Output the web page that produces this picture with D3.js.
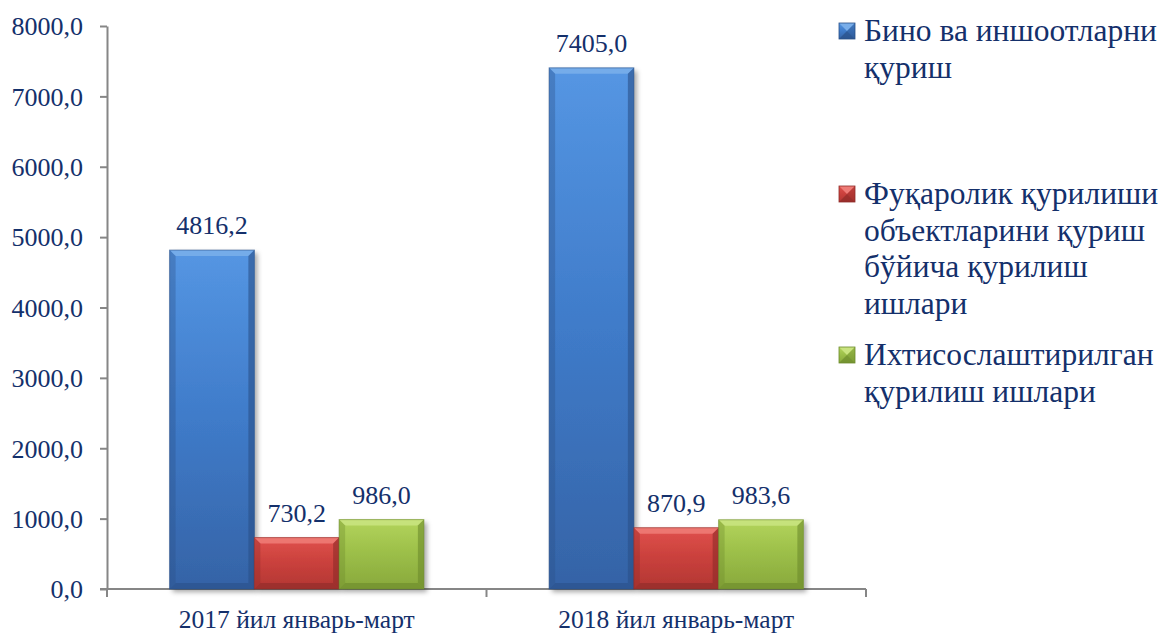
<!doctype html>
<html>
  <head>
    <meta charset="utf-8">
    <script src="https://d3js.org/d3.v7.min.js"></script>
    <style>
      body { margin: 0; background: #fff; }
    </style>
  </head>
  <body>
    <svg id="chart" width="1165" height="635"></svg>
    <script>
      // data
      var categories = ["2017 йил январь-март", "2018 йил январь-март"];
      var seriesNames = [
        ["Бино ва иншоотларни", "қуриш"],
        ["Фуқаролик қурилиши", "объектларини қуриш", "бўйича қурилиш", "ишлари"],
        ["Ихтисослаштирилган", "қурилиш ишлари"]
      ];
      var building = [4816.2, 7405.0];
      var civil = [730.2, 870.9];
      var special = [986.0, 983.6];
      var yTicks = [0, 1000, 2000, 3000, 4000, 5000, 6000, 7000, 8000];

      (function() {
      var FONT = "'Liberation Serif', 'Times New Roman', serif";
      var INK = "#14306B";
      var series = [building, civil, special];
      var keys = ["s0", "s1", "s2"];
      var colors = [
        {top: "#5596E3", mid: "#3F7BC9", bot: "#3563A6", light: "#79AEEA", dark: "#2A5088"},
        {top: "#E0514C", mid: "#C9403C", bot: "#B23733", light: "#EE7B76", dark: "#8E2B28"},
        {top: "#B3D45C", mid: "#9BBE48", bot: "#88A83C", light: "#C9E37F", dark: "#6C8A2C"}
      ];

      var svg = d3.select("#chart");
      var mLeft = 107, mRight = 866, mTop = 26, mBottom = 589;

      var x0 = d3.scaleBand().domain(categories).range([mLeft, mRight])
        .paddingInner(0.33).paddingOuter(0.165);
      var x1 = d3.scaleBand().domain(keys).range([0, x0.bandwidth()]);
      var y = d3.scaleLinear().domain([0, 8000]).range([mBottom, mTop]);

      var fmt = function(v) { return d3.format(".1f")(v).replace(".", ","); };
      function txt(sel, size) {
        return sel.style("font-family", FONT).style("font-size", size + "px").style("fill", INK);
      }

      // defs: gradients and shadow
      var defs = svg.append("defs");
      colors.forEach(function(c, i) {
        var g = defs.append("linearGradient").attr("id", "grad" + i)
          .attr("x1", 0).attr("y1", 0).attr("x2", 0).attr("y2", 1);
        g.append("stop").attr("offset", "0%").attr("stop-color", c.top);
        g.append("stop").attr("offset", "50%").attr("stop-color", c.mid);
        g.append("stop").attr("offset", "100%").attr("stop-color", c.bot);
      });
      var f = defs.append("filter").attr("id", "shadow")
        .attr("x", "-20%").attr("y", "-20%").attr("width", "150%").attr("height", "150%");
      f.append("feDropShadow").attr("dx", 3).attr("dy", 3).attr("stdDeviation", 2.5)
        .attr("flood-color", "#000").attr("flood-opacity", 0.35);

      // axes
      var yAxis = d3.axisLeft(y).tickValues(yTicks).tickSize(7).tickSizeOuter(0).tickFormat(fmt);
      var ya = svg.append("g").attr("transform", "translate(" + mLeft + ",0)").call(yAxis);
      ya.select(".domain").attr("stroke", "#868686").attr("stroke-width", 2);
      ya.selectAll(".tick line").attr("stroke", "#868686").attr("stroke-width", 2);
      txt(ya.selectAll(".tick text").attr("x", -24).attr("dy", "0.34em"), 26);

      // x axis baseline with category separators
      var xa = svg.append("g");
      xa.append("line").attr("x1", mLeft - 7).attr("x2", mRight).attr("y1", mBottom).attr("y2", mBottom)
        .attr("stroke", "#868686").attr("stroke-width", 2);
      xa.append("line").attr("x1", mLeft).attr("x2", mLeft).attr("y1", mBottom).attr("y2", mBottom + 8)
        .attr("stroke", "#868686").attr("stroke-width", 2);
      var seps = categories.map(function(c) { return x0(c) + x0.bandwidth() + x0.step() * 0.165; });
      xa.selectAll(".sep").data(seps).enter().append("line")
        .attr("x1", function(d) { return d; }).attr("x2", function(d) { return d; })
        .attr("y1", mBottom).attr("y2", mBottom + 8)
        .attr("stroke", "#868686").attr("stroke-width", 2);
      txt(xa.selectAll(".cat").data(categories).enter().append("text")
        .attr("x", function(d) { return x0(d) + x0.bandwidth() / 2; })
        .attr("y", 628).attr("text-anchor", "middle")
        .text(function(d) { return d; }), 25.5);

      // bars
      var bev = 6;
      categories.forEach(function(cat, ci) {
        var g = svg.append("g").attr("transform", "translate(" + x0(cat) + ",0)");
        series.forEach(function(s, si) {
          var v = s[ci];
          var bx = x1(keys[si]), bw = x1.bandwidth(), by = y(v), bh = y(0) - y(v);
          var c = colors[si];
          var bar = g.append("g");
          bar.append("rect").attr("x", bx).attr("y", by).attr("width", bw).attr("height", bh)
            .attr("fill", "url(#grad" + si + ")").attr("filter", "url(#shadow)");
          // bevel edges
          var b = Math.min(bev, bh / 2);
          bar.append("polygon")
            .attr("points", [[bx, by], [bx + bw, by], [bx + bw - b, by + b], [bx + b, by + b]].join(" "))
            .attr("fill", c.light).attr("opacity", 0.9);
          bar.append("polygon")
            .attr("points", [[bx, by], [bx + b, by + b], [bx + b, by + bh - b], [bx, by + bh]].join(" "))
            .attr("fill", c.dark).attr("opacity", 0.35);
          bar.append("polygon")
            .attr("points", [[bx + bw, by], [bx + bw - b, by + b], [bx + bw - b, by + bh - b], [bx + bw, by + bh]].join(" "))
            .attr("fill", c.dark).attr("opacity", 0.6);
          bar.append("polygon")
            .attr("points", [[bx, by + bh], [bx + b, by + bh - b], [bx + bw - b, by + bh - b], [bx + bw, by + bh]].join(" "))
            .attr("fill", c.dark).attr("opacity", 0.6);
          bar.append("rect").attr("x", bx).attr("y", by).attr("width", bw).attr("height", bh)
            .attr("fill", "none").attr("stroke", c.dark).attr("stroke-width", 1).attr("stroke-opacity", 0.6);
          txt(g.append("text").attr("x", bx + bw / 2).attr("y", by - 16)
            .attr("text-anchor", "middle").text(fmt(v)), 26);
        });
      });

      // legend
      var legendY = [41, 204, 365];
      var lineH = 36.5;
      seriesNames.forEach(function(lines, i) {
        var lg = svg.append("g");
        var c = colors[i];
        var mx = 839, my = legendY[i] - 18, ms = 16;
        lg.append("rect").attr("x", mx).attr("y", my).attr("width", ms).attr("height", ms)
          .attr("fill", "url(#grad" + i + ")");
        lg.append("polygon").attr("points", [[mx, my], [mx + ms, my], [mx + ms / 2, my + ms / 2]].join(" "))
          .attr("fill", c.light);
        lg.append("polygon").attr("points", [[mx, my + ms], [mx + ms, my + ms], [mx + ms / 2, my + ms / 2]].join(" "))
          .attr("fill", c.dark).attr("opacity", 0.7);
        lg.append("polygon").attr("points", [[mx + ms, my], [mx + ms, my + ms], [mx + ms / 2, my + ms / 2]].join(" "))
          .attr("fill", c.dark).attr("opacity", 0.4);
        lg.append("rect").attr("x", mx).attr("y", my).attr("width", ms).attr("height", ms)
          .attr("fill", "none").attr("stroke", c.dark).attr("stroke-width", 0.8);
        var t = txt(lg.append("text").attr("x", 864).attr("y", legendY[i]), 31.5);
        lines.forEach(function(l, li) {
          t.append("tspan").attr("x", 864).attr("dy", li === 0 ? 0 : lineH).text(l);
        });
      });
      })();
    </script>
  </body>
</html>
